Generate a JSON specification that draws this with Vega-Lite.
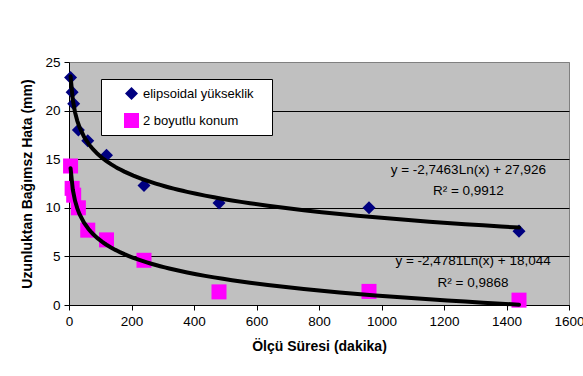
{
  "$schema": "https://vega.github.io/schema/vega-lite/v6.json",
  "autosize": "none",
  "padding": {"left": 69, "top": 62, "right": 14, "bottom": 71},
  "width": 500,
  "height": 243,
  "background": "white",
  "config": {
    "font": "Liberation Sans",
    "view": {"fill": "#C0C0C0", "stroke": "#808080", "strokeWidth": 1},
    "axis": {
      "domainColor": "black",
      "tickColor": "black",
      "labelColor": "black",
      "titleColor": "black",
      "labelFont": "Liberation Sans",
      "titleFont": "Liberation Sans",
      "labelFontSize": 13.5,
      "titleFontSize": 14,
      "titleFontWeight": "bold",
      "tickSize": 5
    }
  },
  "datasets": {
    "points": [
      {"x": 5, "y": 23.4, "series": "elipsoidal yükseklik"},
      {"x": 10, "y": 21.9, "series": "elipsoidal yükseklik"},
      {"x": 15, "y": 20.7, "series": "elipsoidal yükseklik"},
      {"x": 30, "y": 18.0, "series": "elipsoidal yükseklik"},
      {"x": 60, "y": 16.9, "series": "elipsoidal yükseklik"},
      {"x": 120, "y": 15.4, "series": "elipsoidal yükseklik"},
      {"x": 240, "y": 12.3, "series": "elipsoidal yükseklik"},
      {"x": 480, "y": 10.5, "series": "elipsoidal yükseklik"},
      {"x": 960, "y": 10.0, "series": "elipsoidal yükseklik"},
      {"x": 1440, "y": 7.6, "series": "elipsoidal yükseklik"},
      {"x": 5, "y": 14.3, "series": "2 boyutlu konum"},
      {"x": 10, "y": 12.0, "series": "2 boyutlu konum"},
      {"x": 15, "y": 11.3, "series": "2 boyutlu konum"},
      {"x": 30, "y": 10.0, "series": "2 boyutlu konum"},
      {"x": 60, "y": 7.7, "series": "2 boyutlu konum"},
      {"x": 120, "y": 6.7, "series": "2 boyutlu konum"},
      {"x": 240, "y": 4.6, "series": "2 boyutlu konum"},
      {"x": 480, "y": 1.35, "series": "2 boyutlu konum"},
      {"x": 960, "y": 1.4, "series": "2 boyutlu konum"},
      {"x": 1440, "y": 0.5, "series": "2 boyutlu konum"}
    ],
    "labels": [
      {"x": 1278, "y": 13.87, "text": "y = -2,7463Ln(x) + 27,926"},
      {"x": 1278, "y": 11.7, "text": "R² = 0,9912"},
      {"x": 1293, "y": 4.5, "text": "y = -2,4781Ln(x) + 18,044"},
      {"x": 1293, "y": 2.25, "text": "R² = 0,9868"}
    ]
  },
  "layer": [
    {
      "data": {"name": "points"},
      "mark": {"type": "point", "filled": true, "opacity": 1},
      "encoding": {
        "x": {
          "field": "x", "type": "quantitative",
          "scale": {"domain": [0, 1600], "nice": false},
          "axis": {"values": [0, 200, 400, 600, 800, 1000, 1200, 1400, 1600], "format": "d", "grid": false, "title": "Ölçü Süresi (dakika)", "labelPadding": 4, "titlePadding": 12, "labelFlush": false}
        },
        "y": {
          "field": "y", "type": "quantitative",
          "scale": {"domain": [0, 25], "nice": false},
          "axis": {
            "values": [0, 5, 10, 15, 20, 25],
            "grid": true,
            "gridColor": {"condition": {"test": "datum.value == 25", "value": "#808080"}, "value": "black"},
            "gridOpacity": 1,
            "gridWidth": 1,
            "title": "Uzunluktan Bağımsz Hata (mm)",
            "labelPadding": 4,
            "titlePadding": 10
          }
        },
        "color": {
          "field": "series", "type": "nominal",
          "scale": {"domain": ["elipsoidal yükseklik", "2 boyutlu konum"], "range": ["#000080", "#FF00FF"]},
          "legend": {
            "title": null,
            "orient": "none",
            "legendX": 32,
            "legendY": 17,
            "fillColor": "white",
            "strokeColor": "black",
            "padding": 7,
            "rowPadding": 11,
            "symbolOffset": 15,
            "symbolSize": 110,
            "labelOffset": 3,
            "labelFontSize": 13,
            "labelColor": "black",
            "labelFont": "Liberation Sans",
            "labelExpr": "datum.label + '\u00a0\u00a0\u00a0\u200b'"
          }
        },
        "shape": {
          "field": "series", "type": "nominal",
          "scale": {"domain": ["elipsoidal yükseklik", "2 boyutlu konum"], "range": ["diamond", "square"]}
        },
        "size": {
          "field": "series", "type": "nominal",
          "scale": {"domain": ["elipsoidal yükseklik", "2 boyutlu konum"], "range": [170, 225]},
          "legend": null
        }
      }
    },
    {
      "data": {"name": "points"},
      "transform": [
        {"regression": "y", "on": "x", "method": "log", "groupby": ["series"], "extent": [5, 1440]}
      ],
      "mark": {"type": "line", "color": "black", "strokeWidth": 4, "strokeCap": "round"},
      "encoding": {
        "x": {"field": "x", "type": "quantitative"},
        "y": {"field": "y", "type": "quantitative"},
        "detail": {"field": "series", "type": "nominal"}
      }
    },
    {
      "data": {"name": "labels"},
      "mark": {"type": "text", "fontSize": 13.5, "color": "black", "align": "center", "baseline": "middle", "font": "Liberation Sans"},
      "encoding": {
        "x": {"field": "x", "type": "quantitative"},
        "y": {"field": "y", "type": "quantitative"},
        "text": {"field": "text"}
      }
    }
  ]
}
